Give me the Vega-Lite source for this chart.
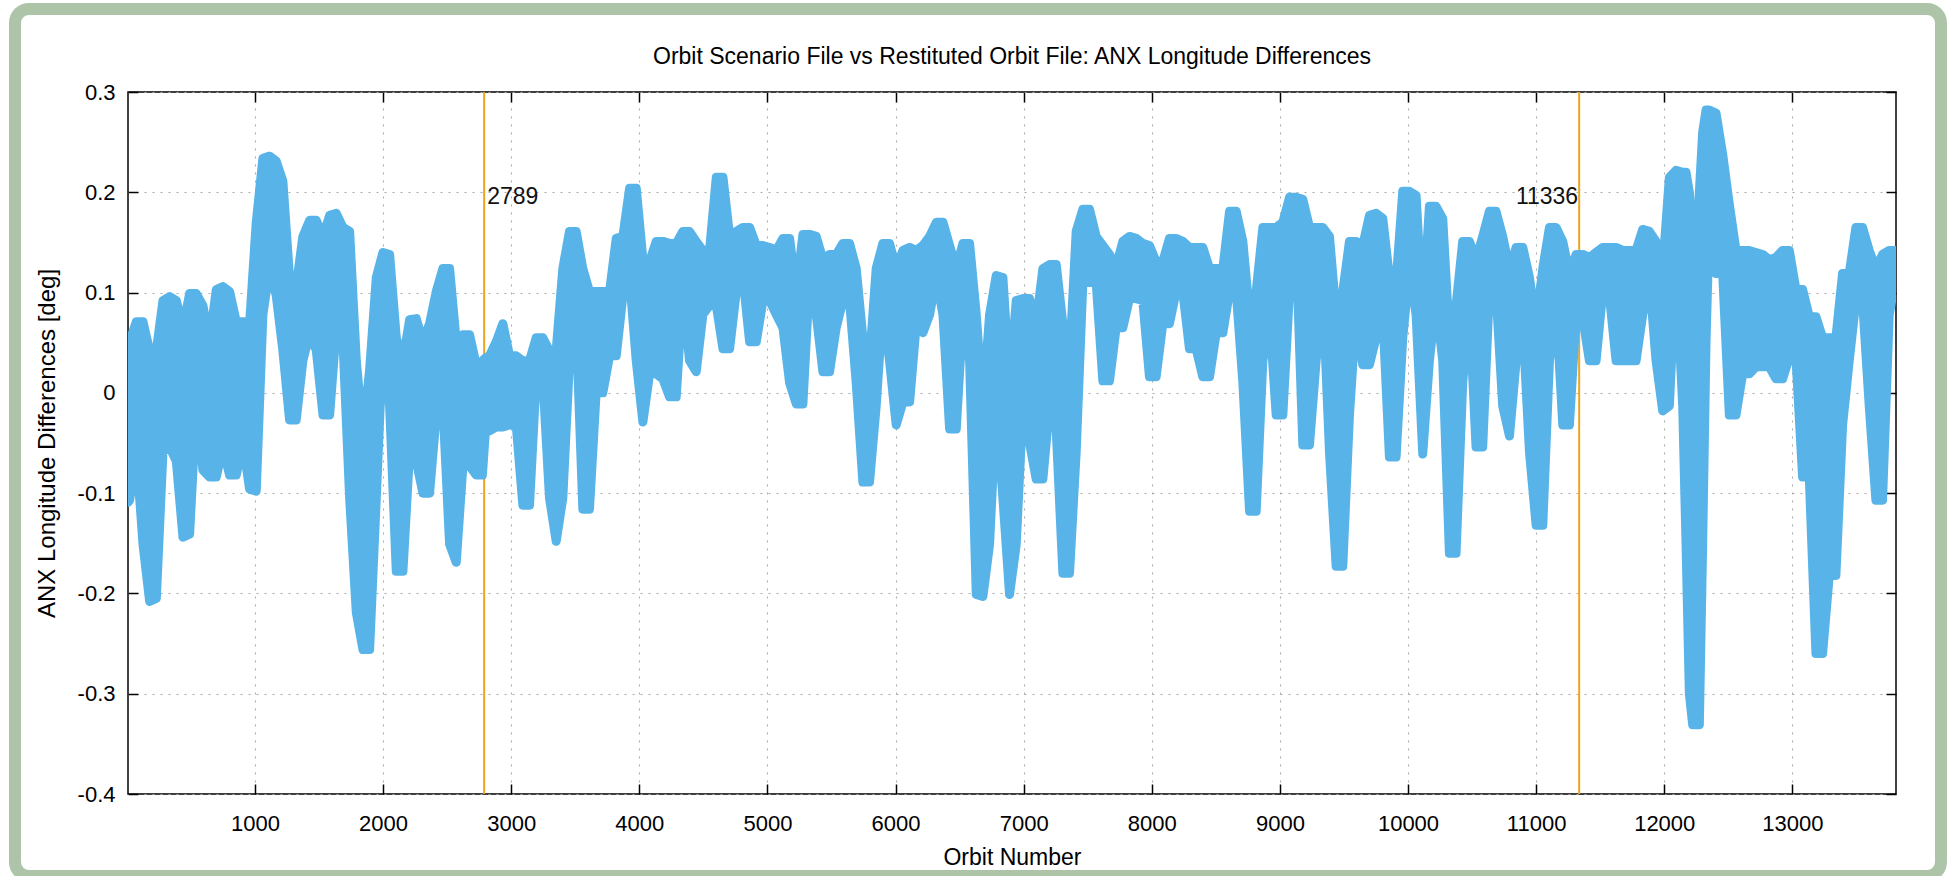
{
  "$schema": "https://vega.github.io/schema/vega-lite/v6.json",
  "autosize": {"type": "none"},
  "padding": {"left": 128, "top": 92, "right": 53, "bottom": 82},
  "width": 1768,
  "height": 702,
  "background": "white",
  "title": {
    "text": "Orbit Scenario File vs Restituted Orbit File: ANX Longitude Differences",
    "font": "Liberation Sans",
    "fontSize": 23,
    "fontWeight": "normal",
    "color": "#000000",
    "anchor": "middle",
    "frame": "group",
    "baseline": "alphabetic",
    "offset": 0,
    "dy": 84
  },
  "datasets": {
    "band": [
      {"orbit": 10, "lo": -0.109, "hi": -0.034},
      {"orbit": 22, "lo": -0.107, "hi": 0.051},
      {"orbit": 74, "lo": -0.059, "hi": 0.071},
      {"orbit": 126, "lo": -0.151, "hi": 0.071},
      {"orbit": 178, "lo": -0.208, "hi": 0.042},
      {"orbit": 230, "lo": -0.205, "hi": 0.042},
      {"orbit": 282, "lo": -0.059, "hi": 0.092},
      {"orbit": 334, "lo": -0.054, "hi": 0.096},
      {"orbit": 386, "lo": -0.068, "hi": 0.092},
      {"orbit": 438, "lo": -0.144, "hi": 0.065},
      {"orbit": 490, "lo": -0.141, "hi": 0.099},
      {"orbit": 542, "lo": -0.013, "hi": 0.099},
      {"orbit": 594, "lo": -0.077, "hi": 0.087},
      {"orbit": 646, "lo": -0.084, "hi": 0.051},
      {"orbit": 698, "lo": -0.084, "hi": 0.103},
      {"orbit": 750, "lo": -0.054, "hi": 0.106},
      {"orbit": 802, "lo": -0.082, "hi": 0.101},
      {"orbit": 854, "lo": -0.082, "hi": 0.071},
      {"orbit": 906, "lo": -0.050, "hi": 0.071},
      {"orbit": 958, "lo": -0.096, "hi": 0.069},
      {"orbit": 1010, "lo": -0.098, "hi": 0.170},
      {"orbit": 1062, "lo": 0.078, "hi": 0.234},
      {"orbit": 1114, "lo": 0.124, "hi": 0.236},
      {"orbit": 1166, "lo": 0.097, "hi": 0.231},
      {"orbit": 1218, "lo": 0.042, "hi": 0.211},
      {"orbit": 1270, "lo": -0.027, "hi": 0.115},
      {"orbit": 1322, "lo": -0.027, "hi": 0.106},
      {"orbit": 1374, "lo": 0.032, "hi": 0.156},
      {"orbit": 1427, "lo": 0.060, "hi": 0.172},
      {"orbit": 1479, "lo": 0.042, "hi": 0.172},
      {"orbit": 1531, "lo": -0.022, "hi": 0.156},
      {"orbit": 1583, "lo": -0.022, "hi": 0.177},
      {"orbit": 1635, "lo": 0.065, "hi": 0.179},
      {"orbit": 1687, "lo": 0.051, "hi": 0.165},
      {"orbit": 1739, "lo": -0.105, "hi": 0.161},
      {"orbit": 1791, "lo": -0.219, "hi": 0.032},
      {"orbit": 1843, "lo": -0.256, "hi": -0.041},
      {"orbit": 1895, "lo": -0.256, "hi": 0.023},
      {"orbit": 1947, "lo": -0.105, "hi": 0.115},
      {"orbit": 1999, "lo": 0.051, "hi": 0.140},
      {"orbit": 2051, "lo": -0.013, "hi": 0.138},
      {"orbit": 2103, "lo": -0.178, "hi": 0.055},
      {"orbit": 2155, "lo": -0.178, "hi": 0.032},
      {"orbit": 2207, "lo": -0.059, "hi": 0.073},
      {"orbit": 2259, "lo": -0.068, "hi": 0.074},
      {"orbit": 2311, "lo": -0.100, "hi": 0.051},
      {"orbit": 2363, "lo": -0.100, "hi": 0.069},
      {"orbit": 2415, "lo": -0.022, "hi": 0.101},
      {"orbit": 2467, "lo": -0.013, "hi": 0.124},
      {"orbit": 2519, "lo": -0.151, "hi": 0.124},
      {"orbit": 2571, "lo": -0.169, "hi": 0.051},
      {"orbit": 2623, "lo": -0.073, "hi": 0.058},
      {"orbit": 2675, "lo": -0.073, "hi": 0.058},
      {"orbit": 2727, "lo": -0.082, "hi": 0.028},
      {"orbit": 2775, "lo": -0.082, "hi": 0.032},
      {"orbit": 2800, "lo": -0.036, "hi": 0.035},
      {"orbit": 2831, "lo": -0.038, "hi": 0.037},
      {"orbit": 2883, "lo": -0.034, "hi": 0.051},
      {"orbit": 2935, "lo": -0.034, "hi": 0.069},
      {"orbit": 2987, "lo": -0.032, "hi": 0.037},
      {"orbit": 3039, "lo": -0.032, "hi": 0.037},
      {"orbit": 3091, "lo": -0.112, "hi": 0.032},
      {"orbit": 3143, "lo": -0.112, "hi": 0.032},
      {"orbit": 3195, "lo": 0.014, "hi": 0.055},
      {"orbit": 3247, "lo": 0.014, "hi": 0.055},
      {"orbit": 3299, "lo": -0.105, "hi": 0.042},
      {"orbit": 3351, "lo": -0.148, "hi": 0.042},
      {"orbit": 3403, "lo": -0.105, "hi": 0.124},
      {"orbit": 3455, "lo": 0.032, "hi": 0.161},
      {"orbit": 3507, "lo": 0.069, "hi": 0.161},
      {"orbit": 3559, "lo": -0.116, "hi": 0.124},
      {"orbit": 3611, "lo": -0.116, "hi": 0.101},
      {"orbit": 3663, "lo": 0.000, "hi": 0.101},
      {"orbit": 3715, "lo": 0.000, "hi": 0.101},
      {"orbit": 3768, "lo": 0.037, "hi": 0.101},
      {"orbit": 3820, "lo": 0.037, "hi": 0.154},
      {"orbit": 3872, "lo": 0.097, "hi": 0.156},
      {"orbit": 3924, "lo": 0.115, "hi": 0.204},
      {"orbit": 3976, "lo": 0.032, "hi": 0.204},
      {"orbit": 4028, "lo": -0.029, "hi": 0.133},
      {"orbit": 4080, "lo": 0.019, "hi": 0.131},
      {"orbit": 4132, "lo": 0.019, "hi": 0.151},
      {"orbit": 4184, "lo": 0.014, "hi": 0.151},
      {"orbit": 4236, "lo": -0.004, "hi": 0.149},
      {"orbit": 4288, "lo": -0.004, "hi": 0.149},
      {"orbit": 4340, "lo": 0.101, "hi": 0.161},
      {"orbit": 4392, "lo": 0.032, "hi": 0.161},
      {"orbit": 4444, "lo": 0.021, "hi": 0.151},
      {"orbit": 4496, "lo": 0.078, "hi": 0.142},
      {"orbit": 4548, "lo": 0.087, "hi": 0.142},
      {"orbit": 4601, "lo": 0.087, "hi": 0.215},
      {"orbit": 4653, "lo": 0.044, "hi": 0.215},
      {"orbit": 4705, "lo": 0.044, "hi": 0.156},
      {"orbit": 4757, "lo": 0.101, "hi": 0.161},
      {"orbit": 4809, "lo": 0.115, "hi": 0.165},
      {"orbit": 4861, "lo": 0.051, "hi": 0.165},
      {"orbit": 4913, "lo": 0.051, "hi": 0.147},
      {"orbit": 4965, "lo": 0.092, "hi": 0.147},
      {"orbit": 5017, "lo": 0.092, "hi": 0.145},
      {"orbit": 5069, "lo": 0.078, "hi": 0.142},
      {"orbit": 5121, "lo": 0.065, "hi": 0.154},
      {"orbit": 5173, "lo": 0.010, "hi": 0.154},
      {"orbit": 5225, "lo": -0.011, "hi": 0.101},
      {"orbit": 5277, "lo": -0.011, "hi": 0.158},
      {"orbit": 5329, "lo": 0.115, "hi": 0.158},
      {"orbit": 5381, "lo": 0.078, "hi": 0.156},
      {"orbit": 5433, "lo": 0.021, "hi": 0.133},
      {"orbit": 5485, "lo": 0.021, "hi": 0.138},
      {"orbit": 5537, "lo": 0.065, "hi": 0.138},
      {"orbit": 5589, "lo": 0.092, "hi": 0.149},
      {"orbit": 5641, "lo": 0.092, "hi": 0.149},
      {"orbit": 5693, "lo": 0.010, "hi": 0.124},
      {"orbit": 5745, "lo": -0.089, "hi": 0.055},
      {"orbit": 5797, "lo": -0.089, "hi": 0.032},
      {"orbit": 5849, "lo": -0.013, "hi": 0.124},
      {"orbit": 5901, "lo": 0.087, "hi": 0.149},
      {"orbit": 5953, "lo": 0.032, "hi": 0.149},
      {"orbit": 6005, "lo": -0.032, "hi": 0.124},
      {"orbit": 6058, "lo": -0.009, "hi": 0.142},
      {"orbit": 6110, "lo": -0.009, "hi": 0.145},
      {"orbit": 6162, "lo": 0.069, "hi": 0.142},
      {"orbit": 6214, "lo": 0.060, "hi": 0.147},
      {"orbit": 6266, "lo": 0.078, "hi": 0.156},
      {"orbit": 6318, "lo": 0.115, "hi": 0.170},
      {"orbit": 6370, "lo": 0.078, "hi": 0.170},
      {"orbit": 6422, "lo": -0.036, "hi": 0.147},
      {"orbit": 6474, "lo": -0.036, "hi": 0.124},
      {"orbit": 6526, "lo": 0.078, "hi": 0.149},
      {"orbit": 6578, "lo": 0.032, "hi": 0.149},
      {"orbit": 6630, "lo": -0.201, "hi": 0.078},
      {"orbit": 6682, "lo": -0.203, "hi": -0.013},
      {"orbit": 6734, "lo": -0.151, "hi": 0.078},
      {"orbit": 6786, "lo": -0.013, "hi": 0.117},
      {"orbit": 6838, "lo": -0.105, "hi": 0.115},
      {"orbit": 6890, "lo": -0.201, "hi": 0.010},
      {"orbit": 6942, "lo": -0.151, "hi": 0.092},
      {"orbit": 6994, "lo": -0.013, "hi": 0.094},
      {"orbit": 7046, "lo": -0.050, "hi": 0.094},
      {"orbit": 7098, "lo": -0.086, "hi": 0.069},
      {"orbit": 7150, "lo": -0.086, "hi": 0.124},
      {"orbit": 7202, "lo": -0.013, "hi": 0.128},
      {"orbit": 7254, "lo": -0.036, "hi": 0.128},
      {"orbit": 7306, "lo": -0.180, "hi": 0.069},
      {"orbit": 7358, "lo": -0.180, "hi": 0.032},
      {"orbit": 7410, "lo": -0.059, "hi": 0.161},
      {"orbit": 7462, "lo": 0.110, "hi": 0.183},
      {"orbit": 7514, "lo": 0.110, "hi": 0.183},
      {"orbit": 7566, "lo": 0.110, "hi": 0.156},
      {"orbit": 7618, "lo": 0.012, "hi": 0.147},
      {"orbit": 7670, "lo": 0.012, "hi": 0.138},
      {"orbit": 7722, "lo": 0.065, "hi": 0.126},
      {"orbit": 7774, "lo": 0.065, "hi": 0.151},
      {"orbit": 7826, "lo": 0.094, "hi": 0.156},
      {"orbit": 7878, "lo": 0.094, "hi": 0.154},
      {"orbit": 7930, "lo": 0.092, "hi": 0.149},
      {"orbit": 7982, "lo": 0.016, "hi": 0.147},
      {"orbit": 8034, "lo": 0.016, "hi": 0.131},
      {"orbit": 8086, "lo": 0.069, "hi": 0.131},
      {"orbit": 8138, "lo": 0.069, "hi": 0.154},
      {"orbit": 8190, "lo": 0.101, "hi": 0.154},
      {"orbit": 8242, "lo": 0.101, "hi": 0.151},
      {"orbit": 8294, "lo": 0.044, "hi": 0.145},
      {"orbit": 8346, "lo": 0.044, "hi": 0.145},
      {"orbit": 8398, "lo": 0.016, "hi": 0.145},
      {"orbit": 8451, "lo": 0.016, "hi": 0.124},
      {"orbit": 8503, "lo": 0.060, "hi": 0.124},
      {"orbit": 8555, "lo": 0.060, "hi": 0.124},
      {"orbit": 8607, "lo": 0.101, "hi": 0.181},
      {"orbit": 8659, "lo": 0.101, "hi": 0.181},
      {"orbit": 8711, "lo": 0.010, "hi": 0.151},
      {"orbit": 8763, "lo": -0.118, "hi": 0.078},
      {"orbit": 8815, "lo": -0.118, "hi": 0.101},
      {"orbit": 8867, "lo": 0.032, "hi": 0.165},
      {"orbit": 8919, "lo": 0.078, "hi": 0.165},
      {"orbit": 8971, "lo": -0.022, "hi": 0.165},
      {"orbit": 9023, "lo": -0.022, "hi": 0.170},
      {"orbit": 9075, "lo": 0.101, "hi": 0.195},
      {"orbit": 9127, "lo": 0.147, "hi": 0.195},
      {"orbit": 9179, "lo": -0.052, "hi": 0.193},
      {"orbit": 9231, "lo": -0.052, "hi": 0.165},
      {"orbit": 9283, "lo": 0.032, "hi": 0.165},
      {"orbit": 9335, "lo": 0.101, "hi": 0.165},
      {"orbit": 9387, "lo": -0.059, "hi": 0.156},
      {"orbit": 9439, "lo": -0.173, "hi": 0.078},
      {"orbit": 9491, "lo": -0.173, "hi": 0.101},
      {"orbit": 9543, "lo": -0.022, "hi": 0.151},
      {"orbit": 9595, "lo": 0.078, "hi": 0.151},
      {"orbit": 9647, "lo": 0.028, "hi": 0.147},
      {"orbit": 9699, "lo": 0.028, "hi": 0.177},
      {"orbit": 9751, "lo": 0.055, "hi": 0.179},
      {"orbit": 9803, "lo": 0.078, "hi": 0.174},
      {"orbit": 9855, "lo": -0.064, "hi": 0.115},
      {"orbit": 9907, "lo": -0.064, "hi": 0.110},
      {"orbit": 9959, "lo": 0.055, "hi": 0.201},
      {"orbit": 10011, "lo": 0.124, "hi": 0.201},
      {"orbit": 10063, "lo": 0.078, "hi": 0.197},
      {"orbit": 10115, "lo": -0.061, "hi": 0.078},
      {"orbit": 10167, "lo": 0.032, "hi": 0.186},
      {"orbit": 10219, "lo": 0.092, "hi": 0.186},
      {"orbit": 10271, "lo": 0.032, "hi": 0.174},
      {"orbit": 10323, "lo": -0.160, "hi": 0.055},
      {"orbit": 10375, "lo": -0.160, "hi": 0.087},
      {"orbit": 10427, "lo": 0.010, "hi": 0.151},
      {"orbit": 10479, "lo": 0.087, "hi": 0.151},
      {"orbit": 10531, "lo": -0.054, "hi": 0.133},
      {"orbit": 10583, "lo": -0.054, "hi": 0.156},
      {"orbit": 10635, "lo": 0.101, "hi": 0.181},
      {"orbit": 10687, "lo": 0.101, "hi": 0.181},
      {"orbit": 10739, "lo": -0.013, "hi": 0.156},
      {"orbit": 10792, "lo": -0.043, "hi": 0.124},
      {"orbit": 10844, "lo": 0.032, "hi": 0.145},
      {"orbit": 10896, "lo": 0.069, "hi": 0.145},
      {"orbit": 10948, "lo": -0.059, "hi": 0.115},
      {"orbit": 11000, "lo": -0.132, "hi": 0.069},
      {"orbit": 11052, "lo": -0.132, "hi": 0.124},
      {"orbit": 11104, "lo": 0.032, "hi": 0.165},
      {"orbit": 11156, "lo": 0.087, "hi": 0.165},
      {"orbit": 11208, "lo": -0.032, "hi": 0.151},
      {"orbit": 11260, "lo": -0.032, "hi": 0.119},
      {"orbit": 11312, "lo": 0.078, "hi": 0.138},
      {"orbit": 11364, "lo": 0.074, "hi": 0.138},
      {"orbit": 11416, "lo": 0.032, "hi": 0.135},
      {"orbit": 11468, "lo": 0.032, "hi": 0.140},
      {"orbit": 11520, "lo": 0.101, "hi": 0.145},
      {"orbit": 11572, "lo": 0.097, "hi": 0.145},
      {"orbit": 11624, "lo": 0.032, "hi": 0.145},
      {"orbit": 11676, "lo": 0.032, "hi": 0.142},
      {"orbit": 11728, "lo": 0.032, "hi": 0.142},
      {"orbit": 11780, "lo": 0.032, "hi": 0.142},
      {"orbit": 11832, "lo": 0.078, "hi": 0.163},
      {"orbit": 11884, "lo": 0.115, "hi": 0.161},
      {"orbit": 11936, "lo": 0.032, "hi": 0.151},
      {"orbit": 11988, "lo": -0.018, "hi": 0.124},
      {"orbit": 12040, "lo": -0.013, "hi": 0.215},
      {"orbit": 12092, "lo": 0.124, "hi": 0.222},
      {"orbit": 12144, "lo": -0.013, "hi": 0.220},
      {"orbit": 12170, "lo": -0.150, "hi": 0.220},
      {"orbit": 12196, "lo": -0.300, "hi": 0.200},
      {"orbit": 12222, "lo": -0.331, "hi": 0.150},
      {"orbit": 12248, "lo": -0.331, "hi": 0.140},
      {"orbit": 12274, "lo": -0.331, "hi": 0.200},
      {"orbit": 12300, "lo": -0.150, "hi": 0.260},
      {"orbit": 12326, "lo": 0.050, "hi": 0.282},
      {"orbit": 12352, "lo": 0.170, "hi": 0.282},
      {"orbit": 12404, "lo": 0.119, "hi": 0.279},
      {"orbit": 12456, "lo": 0.119, "hi": 0.238},
      {"orbit": 12508, "lo": -0.022, "hi": 0.188},
      {"orbit": 12560, "lo": -0.022, "hi": 0.142},
      {"orbit": 12612, "lo": 0.019, "hi": 0.142},
      {"orbit": 12664, "lo": 0.019, "hi": 0.142},
      {"orbit": 12716, "lo": 0.026, "hi": 0.140},
      {"orbit": 12768, "lo": 0.026, "hi": 0.138},
      {"orbit": 12820, "lo": 0.026, "hi": 0.133},
      {"orbit": 12872, "lo": 0.014, "hi": 0.135},
      {"orbit": 12924, "lo": 0.014, "hi": 0.142},
      {"orbit": 12976, "lo": 0.035, "hi": 0.142},
      {"orbit": 13028, "lo": 0.035, "hi": 0.103},
      {"orbit": 13080, "lo": -0.084, "hi": 0.103},
      {"orbit": 13132, "lo": -0.084, "hi": 0.076},
      {"orbit": 13184, "lo": -0.260, "hi": 0.076},
      {"orbit": 13236, "lo": -0.260, "hi": 0.055},
      {"orbit": 13288, "lo": -0.182, "hi": 0.055},
      {"orbit": 13340, "lo": -0.182, "hi": 0.055},
      {"orbit": 13392, "lo": -0.032, "hi": 0.119},
      {"orbit": 13444, "lo": 0.032, "hi": 0.119},
      {"orbit": 13496, "lo": 0.092, "hi": 0.165},
      {"orbit": 13548, "lo": 0.092, "hi": 0.165},
      {"orbit": 13600, "lo": -0.013, "hi": 0.142},
      {"orbit": 13652, "lo": -0.107, "hi": 0.124},
      {"orbit": 13704, "lo": -0.107, "hi": 0.138},
      {"orbit": 13756, "lo": 0.078, "hi": 0.142},
      {"orbit": 13809, "lo": 0.117, "hi": 0.142}
    ],
    "markers": [
      {"orbit": 2789, "label": "2789", "side": "right"},
      {"orbit": 11336, "label": "11336", "side": "left"}
    ]
  },
  "layer": [
    {
      "data": {"values": [{}]},
      "mark": {"type": "rect", "fill": "transparent", "stroke": "#adc4a8", "strokeWidth": 12, "cornerRadius": 14, "clip": false},
      "encoding": {
        "x": {"datum": -873, "type": "quantitative", "scale": {"domain": [9, 13809], "nice": false, "zero": false}, "axis": null},
        "x2": {"datum": 14160},
        "y": {"datum": 0.3828, "type": "quantitative", "scale": {"domain": [-0.4, 0.3], "nice": false, "zero": false}, "axis": null},
        "y2": {"datum": -0.4818}
      }
    },
    {
      "data": {"name": "markers"},
      "mark": {"type": "rule", "color": "#eca51e", "strokeWidth": 2},
      "encoding": {
        "x": {
          "field": "orbit", "type": "quantitative",
          "scale": {"domain": [9, 13809], "nice": false, "zero": false},
          "axis": {"orient": "top", "values": [1000, 2000, 3000, 4000, 5000, 6000, 7000, 8000, 9000, 10000, 11000, 12000, 13000], "labels": false, "grid": false, "title": null}
        }
      }
    },
    {
      "data": {"name": "band"},
      "mark": {"type": "area", "color": "#58b4e8", "stroke": "#58b4e8", "strokeWidth": 9, "strokeJoin": "round", "clip": true, "interpolate": "linear", "opacity": 1},
      "encoding": {
        "x": {
          "field": "orbit", "type": "quantitative",
          "scale": {"domain": [9, 13809], "nice": false, "zero": false},
          "axis": {"orient": "bottom", "values": [1000, 2000, 3000, 4000, 5000, 6000, 7000, 8000, 9000, 10000, 11000, 12000, 13000], "grid": true, "labelPadding": 29, "format": "d", "title": "Orbit Number", "titleY": 70, "titleBaseline": "alphabetic"}
        },
        "y": {
          "field": "hi", "type": "quantitative",
          "scale": {"domain": [-0.4, 0.3], "nice": false, "zero": false},
          "axis": {"orient": "left", "values": [-0.4, -0.3, -0.2, -0.1, 0, 0.1, 0.2, 0.3], "grid": true, "labelPadding": 23, "labelExpr": "replace(format(datum.value, '.1~f'), '\u2212', '-')", "title": "ANX Longitude Differences [deg]", "titleFontSize": 24, "titleX": -81, "titleY": 351, "titleBaseline": "middle", "titleAngle": 270}
        },
        "y2": {"field": "lo"}
      }
    },
    {
      "data": {"name": "markers"},
      "transform": [{"filter": "datum.side == 'right'"}],
      "mark": {"type": "text", "align": "left", "baseline": "middle", "dx": 3, "font": "Liberation Sans", "fontSize": 23, "color": "#111111"},
      "encoding": {
        "x": {"field": "orbit", "type": "quantitative", "scale": {"domain": [9, 13809], "nice": false, "zero": false}, "axis": null},
        "y": {"datum": 0.195, "type": "quantitative", "scale": {"domain": [-0.4, 0.3], "nice": false, "zero": false},
          "axis": {"orient": "right", "values": [-0.4, -0.3, -0.2, -0.1, 0, 0.1, 0.2, 0.3], "labels": false, "grid": false, "title": null}},
        "text": {"field": "label"}
      }
    },
    {
      "data": {"name": "markers"},
      "transform": [{"filter": "datum.side == 'left'"}],
      "mark": {"type": "text", "align": "right", "baseline": "middle", "dx": -1, "font": "Liberation Sans", "fontSize": 23, "color": "#111111"},
      "encoding": {
        "x": {"field": "orbit", "type": "quantitative", "scale": {"domain": [9, 13809], "nice": false, "zero": false}, "axis": null},
        "y": {"datum": 0.195, "type": "quantitative", "scale": {"domain": [-0.4, 0.3], "nice": false, "zero": false}, "axis": null},
        "text": {"field": "label"}
      }
    }
  ],
  "resolve": {"axis": {"x": "independent", "y": "independent"}},
  "config": {
    "view": {"stroke": "#000000", "strokeWidth": 1.5},
    "axis": {
      "labelFont": "Liberation Sans",
      "titleFont": "Liberation Sans",
      "labelFontSize": 22,
      "titleFontSize": 23,
      "titleFontWeight": "normal",
      "labelColor": "#000000",
      "titleColor": "#000000",
      "tickColor": "#000000",
      "tickWidth": 1.5,
      "tickSize": -10,
      "domain": false,
      "gridColor": "#aaaaaa",
      "gridDash": [2, 6],
      "gridWidth": 1,
      "labelOverlap": false
    }
  }
}
